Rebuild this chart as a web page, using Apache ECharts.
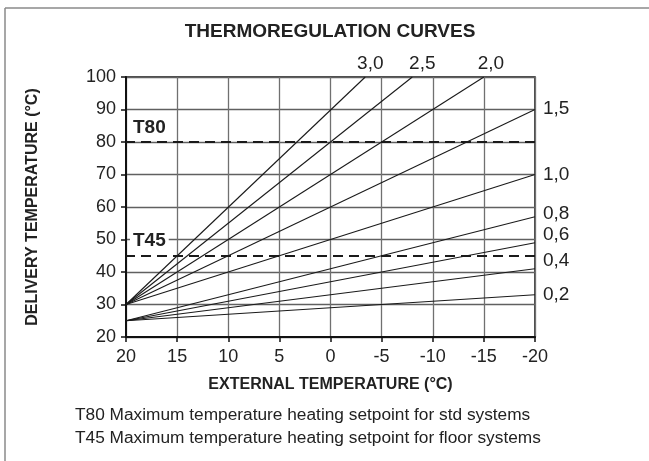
<!DOCTYPE html>
<html>
<head>
<meta charset="utf-8">
<script src="https://cdn.jsdelivr.net/npm/echarts@6/dist/echarts.min.js"></script>
<style>
  html, body { margin: 0; padding: 0; background: #fff; }
  #chart { width: 649px; height: 461px; }
</style>
</head>
<body>
<div id="chart"></div>
<script>
// Heating curves: each line runs from its start point to its end point
const curveLabels    = ['3,0', '2,5', '2,0', '1,5', '1,0', '0,8', '0,6', '0,4', '0,2'];
const startExternal  = [20, 20, 20, 20, 20, 20, 20, 20, 20];
const startDelivery  = [30, 30, 30, 30, 30, 25, 25, 25, 25];
const endExternal    = [-3.4, -8, -15, -20, -20, -20, -20, -20, -20];
const endDelivery    = [100, 100, 100, 90, 70, 57, 49, 41, 33];

// Maximum setpoint lines
const limitValues = [80, 45];
const limitLabels = ['T80', 'T45'];

// Axis ranges
const xRange = [-20, 20];
const yRange = [20, 100];

const titleText = 'THERMOREGULATION CURVES';
const xTitle = 'EXTERNAL TEMPERATURE (°C)';
const yTitle = 'DELIVERY TEMPERATURE (°C)';
const notes = [
  'T80 Maximum temperature heating setpoint for std systems',
  'T45 Maximum temperature heating setpoint for floor systems'
];

// Label nudges for the curve names (pixels)
const labelNudge = {
  '3,0': [5, 0], '2,5': [10, 0], '2,0': [7, 0],
  '1,5': [0, -1], '1,0': [0, 0], '0,8': [0, -3],
  '0,6': [0, -8], '0,4': [0, -8], '0,2': [0, 0]
};

const SANS = '"Liberation Sans", Arial, sans-serif';
const INK = '#222';

const curveSeries = curveLabels.map((name, i) => {
  const atTop = endDelivery[i] >= yRange[1];
  return {
    type: 'line',
    name: name,
    silent: true,
    animation: false,
    symbol: 'circle',
    symbolSize: 0,
    showSymbol: true,
    itemStyle: { color: 'transparent', borderWidth: 0 },
    lineStyle: { color: '#1a1a1a', width: 1.1 },
    data: [
      [startExternal[i], startDelivery[i]],
      {
        value: [endExternal[i], endDelivery[i]],
        label: {
          show: true,
          formatter: name,
          position: atTop ? 'top' : 'right',
          distance: atTop ? 4 : 8,
          offset: labelNudge[name],
          fontSize: 19,
          fontFamily: SANS,
          color: INK
        }
      }
    ]
  };
});

// Setpoint limits drawn as dashed lines across the plot, name at the left end
curveSeries[0].markLine = {
  silent: true,
  animation: false,
  symbol: 'none',
  lineStyle: { color: '#1a1a1a', width: 2, type: [10, 6] },
  label: {
    show: true,
    position: 'insideEndTop',
    formatter: '{b}',
    fontSize: 19,
    fontWeight: 'bold',
    fontFamily: SANS,
    color: INK,
    backgroundColor: '#fff',
    padding: [0, 3],
    distance: [4, 5]
  },
  data: limitValues.map((v, i) => ({ yAxis: v, name: limitLabels[i] }))
};

const chart = echarts.init(document.getElementById('chart'), null, { renderer: 'canvas' });

chart.setOption({
  animation: false,
  backgroundColor: '#fff',
  grid: {
    left: 126, right: 114, top: 77, bottom: 124,
    show: true, borderColor: '#111', borderWidth: 1.5
  },
  xAxis: {
    type: 'value',
    min: xRange[0], max: xRange[1], interval: 5,
    inverse: true,
    name: xTitle,
    nameLocation: 'middle',
    nameGap: 40,
    nameTextStyle: { fontFamily: SANS, fontWeight: 'bold', fontSize: 16, color: INK },
    axisLine: { onZero: false, lineStyle: { color: '#111', width: 2 } },
    axisTick: { show: true, length: 5, lineStyle: { color: '#111', width: 1.5 } },
    axisLabel: { fontSize: 18, fontFamily: SANS, color: INK, margin: 11 },
    splitLine: { show: true, lineStyle: { color: '#707070', width: 1.3 } }
  },
  yAxis: {
    type: 'value',
    min: yRange[0], max: yRange[1], interval: 10,
    name: yTitle,
    nameLocation: 'middle',
    nameGap: 85,
    nameTextStyle: { fontFamily: SANS, fontWeight: 'bold', fontSize: 16, color: INK },
    axisLine: { onZero: false, lineStyle: { color: '#111', width: 2 } },
    axisTick: { show: true, length: 5, lineStyle: { color: '#111', width: 1.5 } },
    axisLabel: { fontSize: 18, fontFamily: SANS, color: INK, margin: 10 },
    splitLine: { show: true, lineStyle: { color: '#606060', width: 1.3 } }
  },
  series: curveSeries,
  graphic: [
    { type: 'line', silent: true, shape: { x1: 5, y1: 8, x2: 649, y2: 8 }, style: { stroke: '#8a8a8a', lineWidth: 1.5 } },
    { type: 'line', silent: true, shape: { x1: 5, y1: 8, x2: 5, y2: 461 }, style: { stroke: '#8a8a8a', lineWidth: 1.5 } },
    {
      type: 'text', silent: true, x: 330, y: 32,
      style: { text: titleText, fill: INK, font: 'bold 19px ' + SANS,
               align: 'center', verticalAlign: 'middle', textAlign: 'center', textVerticalAlign: 'middle' }
    },
    {
      type: 'text', silent: true, x: 75, y: 415,
      style: { text: notes[0], fill: INK, font: '17.3px ' + SANS,
               align: 'left', verticalAlign: 'middle', textAlign: 'left', textVerticalAlign: 'middle' }
    },
    {
      type: 'text', silent: true, x: 75, y: 438,
      style: { text: notes[1], fill: INK, font: '17.3px ' + SANS,
               align: 'left', verticalAlign: 'middle', textAlign: 'left', textVerticalAlign: 'middle' }
    }
  ]
});
</script>
</body>
</html>
